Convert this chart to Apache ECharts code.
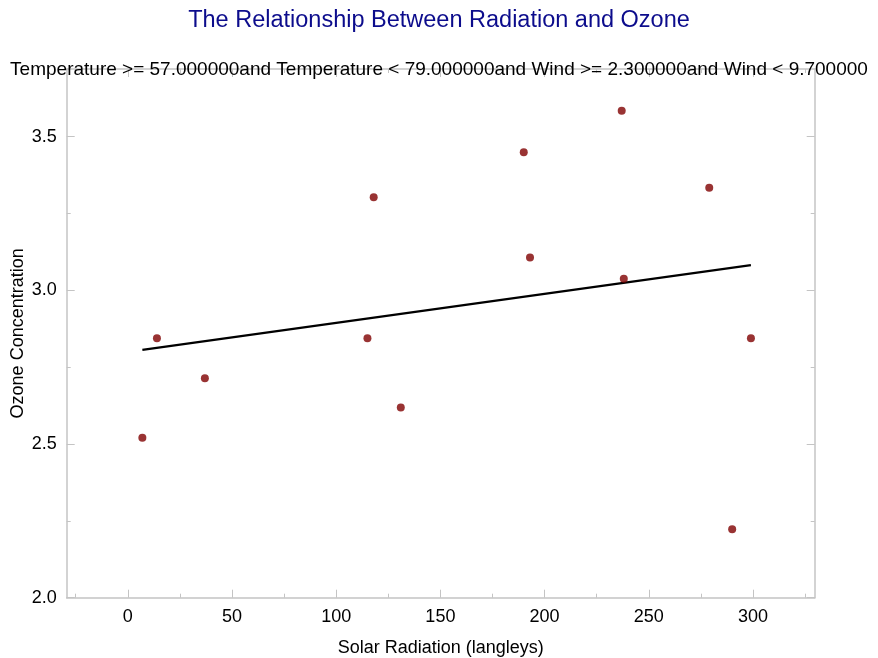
<!DOCTYPE html>
<html>
<head>
<meta charset="utf-8">
<title>Radiation and Ozone</title>
<script src="https://cdn.jsdelivr.net/npm/echarts@6/dist/echarts.min.js"></script>
<style>
  html, body { margin: 0; padding: 0; background: #ffffff; }
  #chart { width: 878px; height: 658px; }
</style>
</head>
<body>
<div id="chart"></div>
<script>
// Solar radiation (langleys) and cube-root ozone concentration
const radiation = [7, 14, 37, 115, 118, 131, 190, 193, 237, 238, 279, 290, 299];
const ozone = [2.520, 2.844, 2.714, 2.844, 3.303, 2.619, 3.449, 3.107, 3.584, 3.038, 3.334, 2.223, 2.844];

// Least-squares fit line endpoints
const fitX = [7, 299];
const fitY = [2.806, 3.082];

// Tick positions
const xMajorTicks = [0, 50, 100, 150, 200, 250, 300];
const xMinorTicks = [-25, 25, 75, 125, 175, 225, 275, 325];
const yMajorTicks = [2.0, 2.5, 3.0, 3.5];
const yMinorTicks = [2.25, 2.75, 3.25];

const titleText = 'The Relationship Between Radiation and Ozone';
const subtitleText = 'Temperature >= 57.000000and Temperature < 79.000000and Wind >= 2.300000and Wind < 9.700000';
const xName = 'Solar Radiation (langleys)';
const yName = 'Ozone Concentration';

const FONT = 'Liberation Sans, Arial, sans-serif';
const AXIS_GRAY = '#c4c4c4';
const X_MIN = -29.3, X_MAX = 329.6;
const Y_MIN = 2.0, Y_MAX = 3.72;

// A value axis that only contributes ticks (and optionally its line) at given values
function tickAxis(kind, position, ticks, len, opts) {
  const ax = {
    type: 'value',
    position: position,
    min: kind === 'x' ? X_MIN : Y_MIN,
    max: kind === 'x' ? X_MAX : Y_MAX,
    splitLine: { show: false },
    axisLine: { show: !!(opts && opts.line), onZero: false, lineStyle: { color: AXIS_GRAY, width: 1.5 } },
    axisTick: { show: true, inside: true, length: len, customValues: ticks, lineStyle: { color: AXIS_GRAY, width: 1 } },
    axisLabel: { show: false }
  };
  return Object.assign(ax, (opts && opts.extra) || {});
}

const chart = echarts.init(document.getElementById('chart'), null, { renderer: 'canvas' });

const xPairs = radiation.map((r, i) => [r, ozone[i]]);
const fitPairs = fitX.map((x, i) => [x, fitY[i]]);

chart.setOption({
  animation: false,
  backgroundColor: '#ffffff',
  textStyle: { fontFamily: FONT },
  title: [
    {
      text: titleText, left: 'center', top: 4,
      textStyle: { fontFamily: FONT, fontSize: 23.5, fontWeight: 'normal', color: '#0c0c8c' }
    },
    {
      text: subtitleText, left: 'center', top: 55,
      textStyle: { fontFamily: FONT, fontSize: 19, fontWeight: 'normal', color: '#000000' }
    }
  ],
  grid: { left: 66.7, right: 63.3, top: 69, bottom: 60.3, containLabel: false, outerBoundsMode: 'none' },
  xAxis: [
    tickAxis('x', 'bottom', xMajorTicks, 8, {
      line: true,
      extra: {
        name: xName, nameLocation: 'middle', nameGap: 41, nameMoveOverlap: false,
        nameTextStyle: { fontFamily: FONT, fontSize: 18, color: '#000000' },
        axisLabel: { show: true, customValues: xMajorTicks, margin: 10, fontFamily: FONT, fontSize: 18, color: '#000000' }
      }
    }),
    tickAxis('x', 'bottom', xMinorTicks, 4),
    tickAxis('x', 'top', xMajorTicks, 8, { line: true }),
    tickAxis('x', 'top', xMinorTicks, 4)
  ],
  yAxis: [
    tickAxis('y', 'left', yMajorTicks, 8, {
      line: true,
      extra: {
        name: yName, nameLocation: 'middle', nameGap: 40, nameMoveOverlap: false,
        nameTextStyle: { fontFamily: FONT, fontSize: 18, color: '#000000' },
        axisLabel: {
          show: true, customValues: yMajorTicks, margin: 10, fontFamily: FONT, fontSize: 18, color: '#000000',
          formatter: v => v.toFixed(1)
        }
      }
    }),
    tickAxis('y', 'left', yMinorTicks, 4),
    tickAxis('y', 'right', yMajorTicks, 8, { line: true }),
    tickAxis('y', 'right', yMinorTicks, 4)
  ],
  series: [
    {
      type: 'line',
      data: fitPairs,
      xAxisIndex: 0, yAxisIndex: 0,
      showSymbol: false, symbol: 'none',
      lineStyle: { color: '#000000', width: 2.2 },
      z: 2
    },
    {
      type: 'scatter',
      data: xPairs,
      xAxisIndex: 0, yAxisIndex: 0,
      symbol: 'circle', symbolSize: 8,
      itemStyle: { color: '#800000' },
      z: 3
    }
  ]
});
</script>
</body>
</html>
